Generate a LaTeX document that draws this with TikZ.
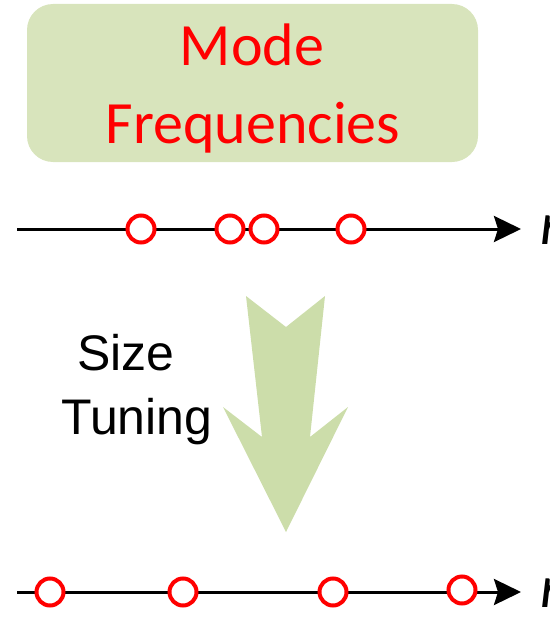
\documentclass[tikz,border=0pt]{standalone}
\usepackage{fontspec}
\setmainfont{Carlito}
\newfontfamily\arialfont{Liberation Sans}
\usetikzlibrary{arrows.meta}
\definecolor{boxgreen}{RGB}{216,228,188}
\definecolor{arrowgreen}{RGB}{204,221,170}
\definecolor{modered}{RGB}{255,0,0}
\tikzset{
  axisline/.style={line width=3pt, -{Stealth[length=27pt,width=26pt,inset=4pt]}},
  modering/.style={circle, draw=modered, line width=4pt, fill=white, minimum size=27pt, inner sep=0pt},
  axislabel/.style={anchor=base west, inner sep=0pt, font=\fontsize{60}{60}\selectfont\itshape},
  titletext/.style={anchor=base, inner sep=0pt, text=modered, font=\fontsize{60}{60}\selectfont},
  tunetext/.style={anchor=base, inner sep=0pt, font=\arialfont\fontsize{50}{50}\selectfont}
}
\begin{document}
\begin{tikzpicture}[x=1pt,y=-1pt]
\useasboundingbox (0,0) rectangle (549,618);
% title box
\fill[boxgreen, rounded corners=26pt] (27,4) rectangle (478,162);
\node[titletext] (mode) at (252,66) {Mode};
\node[titletext] (freq) at (253,143) {Frequencies};
% upper axis
\coordinate (ua) at (17,229);
\coordinate (ub) at (521,229);
\draw[axisline] (ua) -- (ub);
\node[axislabel] (ul) at (540,244) {n};
\node[modering] (u1) at (141,229) {};
\node[modering] (u2) at (230,229) {};
\node[modering] (u3) at (264,229) {};
\node[modering] (u4) at (351,229) {};
% big arrow
\fill[arrowgreen] (246,296) -- (286,327) -- (325,296) -- (310,437) -- (348,407)
  -- (286,532) -- (223,407) -- (262,437) -- cycle;
% size tuning text
\node[tunetext] (size) at (126,370) {Size};
\node[tunetext] (tuning) at (137,434) {Tuning};
% lower axis
\coordinate (la) at (17,592);
\coordinate (lb) at (521,592);
\draw[axisline] (la) -- (lb);
\node[axislabel] (ll) at (540,607) {n};
\node[modering] (l1) at (50,592) {};
\node[modering] (l2) at (183,592) {};
\node[modering] (l3) at (333,592) {};
\node[modering] (l4) at (462,590) {};
\end{tikzpicture}
\end{document}
